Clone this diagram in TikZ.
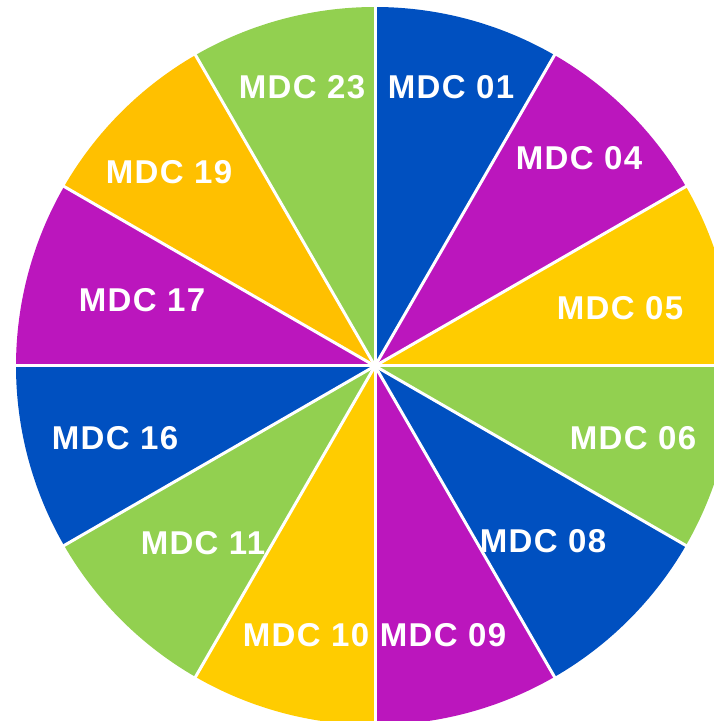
\documentclass[tikz,border=0pt]{standalone}
\usepackage{fontspec}
\setmainfont{Liberation Sans}
\newfontfamily\lblfont[LetterSpace=4]{Liberation Sans Bold}
\definecolor{cblue}{HTML}{0050C0}
\definecolor{cmag}{HTML}{BB16BD}
\definecolor{cyel}{HTML}{FFCC00}
\definecolor{cgreen}{HTML}{92D050}
\definecolor{corange}{HTML}{FFC000}
\tikzset{
  lbl/.style={text=white, font=\lblfont\fontsize{33}{33}\selectfont, inner sep=0pt},
  sep/.style={draw=white, line width=3pt},
}
\begin{document}
\begin{tikzpicture}[x=1pt,y=1pt]
\useasboundingbox (0,0) rectangle (714,721);
\clip (0,0) rectangle (714,721);
\coordinate (c) at (375,355);
\def\R{359}
\foreach \a/\col in {60/cblue,30/cmag,0/cyel,-30/cgreen,-60/cblue,-90/cmag,-120/cyel,-150/cgreen,-180/cblue,150/cmag,120/corange,90/cgreen}{
  \fill[\col] (c) -- ++(\a:\R) arc[start angle=\a, delta angle=30, radius=\R] -- cycle;
}
\foreach \a in {0,30,...,330}{
  \draw[sep] (c) -- ++(\a:\R+2);
}
\fill[white] (c) circle (4);
\node[lbl] (m01) at (451,634) {MDC 01};
\node[lbl] (m23) at (302,634) {MDC 23};
\node[lbl] (m04) at (579,563) {MDC 04};
\node[lbl] (m05) at (620,413) {MDC 05};
\node[lbl] (m06) at (633,283) {MDC 06};
\node[lbl] (m08) at (543,180) {MDC 08};
\node[lbl] (m09) at (443,86) {MDC 09};
\node[lbl] (m10) at (306,86) {MDC 10};
\node[lbl] (m11) at (203,178) {MDC 11};
\node[lbl] (m16) at (115,283) {MDC 16};
\node[lbl] (m17) at (142,421) {MDC 17};
\node[lbl] (m19) at (169,549) {MDC 19};
\end{tikzpicture}
\end{document}
